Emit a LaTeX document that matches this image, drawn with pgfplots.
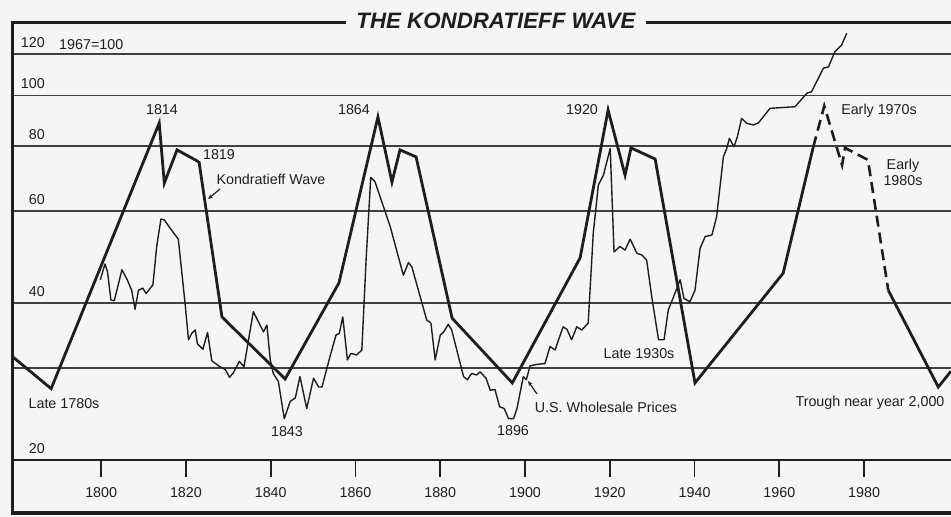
\documentclass[border=0pt]{standalone}
\usepackage{pgfplots}
\pgfplotsset{compat=1.18}
\usepackage{fontspec}
\setmainfont{Liberation Sans}
\usetikzlibrary{arrows.meta}
\definecolor{bg}{RGB}{245,245,245}
\definecolor{ink}{RGB}{30,30,30}
\newcommand\lab{\fontsize{14.3}{16}\selectfont}
\begin{document}
\begin{tikzpicture}
\path[fill=bg, use as bounding box] (-13pt,-57pt) rectangle (938pt,460pt);
\begin{axis}[
  at={(0pt,0pt)}, anchor=south west,
  scale only axis, width=938pt, height=437pt,
  xmin=1779.2, xmax=2000.5,
  ymode=log, ymin=20, ymax=137.6,
  axis line style={draw=none},
  clip=false,
  /pgf/number format/assume math mode=true,
  xtick={1800,1820,1840,1860,1880,1900,1920,1940,1960,1980},
  xticklabels={1800,1820,1840,1860,1880,1900,1920,1940,1960,1980},
  xtick pos=left,
  tick align=outside,
  major tick length=17pt,
  xtick style={line width=1.8pt, ink},
  xticklabel style={font=\lab, text=ink, yshift=-7pt},
  ytick={20,30,40,60,80,100,120},
  yticklabels={20,,40,60,80,100,120},
  ytick style={draw=none},
  yticklabel style={font=\lab, text=ink, anchor=south east, inner sep=0pt, xshift=49pt, yshift=6pt},
  ymajorgrids,
  grid style={line width=1.4pt, ink!85},
]
% U.S. wholesale prices (1967=100)
\addplot[ink, line width=1.4pt, line join=round] coordinates {
(1799.8,44.3) (1800.9,47.5) (1801.5,45.9) (1802.3,40.5) (1803.1,40.4)
(1804.9,46.3) (1806.1,44.4) (1807.2,42.3) (1808.0,38.9) (1808.8,42.3)
(1809.8,42.7) (1810.6,41.7) (1811.4,42.5) (1812.2,43.3) (1813.1,51.3)
(1814.1,57.9) (1814.9,57.7) (1816.3,55.6) (1818.2,53.0) (1819.8,39.9)
(1820.6,34.0) (1821.4,35.0) (1822.2,35.5) (1822.7,33.4) (1824.0,32.6)
(1825.1,35.1) (1826.1,31.0) (1827.7,30.3) (1829.3,29.8) (1830.3,28.8)
(1831.2,29.4) (1832.6,30.9) (1833.7,30.2) (1835.9,38.5) (1838.3,35.2)
(1839.1,36.3) (1839.9,31.1) (1840.6,29.3) (1841.8,28.3) (1843.2,24.0)
(1844.6,25.9) (1845.8,26.3) (1846.9,28.9) (1848.5,25.1) (1850.1,28.7)
(1851.3,27.6) (1852.1,27.6) (1854.0,31.6) (1855.4,34.7) (1856.2,35.0)
(1857.0,37.6) (1858.1,31.1) (1858.9,32.0) (1860.3,31.8) (1861.5,32.5)
(1862.5,48.3) (1863.6,69.6) (1864.6,68.3) (1866.6,61.2) (1868.2,56.0)
(1871.3,45.2) (1872.5,47.8) (1873.3,46.9) (1876.8,37.1) (1877.8,36.6)
(1878.8,31.1) (1880.0,34.7) (1880.7,35.1) (1881.9,36.4) (1882.7,35.5)
(1885.5,28.9) (1886.4,28.5) (1887.4,29.3) (1888.6,29.1) (1889.4,29.5)
(1890.8,28.7) (1891.8,27.2) (1892.9,27.3) (1894.0,25.3) (1895.1,25.1)
(1896.1,24.0) (1897.3,24.0) (1898.1,25.1) (1899.6,28.9) (1900.3,28.5)
(1901.2,30.3) (1902.8,30.5) (1904.7,30.6) (1905.9,33.0) (1907.1,32.5)
(1907.9,34.0) (1909.0,36.0) (1909.9,35.6) (1911.0,34.0) (1912.2,36.0)
(1913.4,35.5) (1914.9,36.6) (1916.1,54.4) (1917.3,67.3) (1918.5,70.3)
(1920.1,79.1) (1921.0,50.1) (1922.4,51.3) (1923.6,50.5) (1924.8,53.0)
(1926.4,49.8) (1927.6,49.4) (1928.7,48.3) (1929.9,41.1) (1931.5,34.0)
(1932.8,34.0) (1933.8,38.8) (1934.9,40.8) (1936.6,44.3) (1937.5,40.8)
(1938.9,40.2) (1940.1,42.3) (1941.3,50.9) (1942.5,53.6) (1944.1,54.0)
(1945.2,58.5) (1946.8,76.3) (1947.6,79.1) (1948.2,82.7) (1949.3,79.7)
(1950.1,83.3) (1951.1,90.3) (1952.3,88.4) (1953.9,87.7) (1955.1,88.6)
(1957.8,94.4) (1963.7,95.1) (1966.5,100.9) (1967.6,101.6) (1970.4,112.7)
(1971.6,113.4) (1973.1,121.2) (1974.7,124.9) (1975.9,131.5)
};
% Kondratieff wave (solid)
\addplot[ink, line width=2.8pt, line join=miter] coordinates {
(1779.2,31.5) (1788.2,27.4) (1813.7,88.5) (1814.9,67.9) (1817.9,78.6)
(1823.1,74.5) (1828.5,37.6) (1843.4,28.6) (1856.1,43.7) (1865.3,90.9)
(1868.6,68.2) (1870.5,78.6) (1874.3,76.2) (1882.8,37.4) (1897.0,28.1)
(1913.0,48.8) (1919.6,93.7) (1923.6,70.3) (1925.0,79.3) (1930.7,75.5)
(1940.1,28.1) (1960.9,45.6) (1968.0,79.6)
};
% Kondratieff wave (projected, dashed)
\addplot[ink, line width=2.6pt, dash pattern=on 11pt off 6pt] coordinates {
(1968.0,79.6) (1970.6,95.4) (1974.8,73.5) (1975.5,79.3) (1980.9,75.2) (1985.7,42.3)
};
\addplot[ink, line width=2.8pt, line join=miter] coordinates {
(1985.7,42.3) (1997.5,27.6) (2000.5,29.6)
};
\end{axis}
% frame
\draw[ink, line width=2pt] (0,0) -- (938pt,0);
\draw[ink, line width=4pt] (0,-53pt) -- (938pt,-53pt);
\draw[ink, line width=3pt] (0,-55pt) -- (0,438.5pt);
\draw[ink, line width=3pt] (-1.5pt,437pt) -- (938pt,437pt);
% title
\node[fill=bg, inner xsep=10pt, inner ysep=2pt, font=\fontsize{22.3}{25}\selectfont\bfseries\itshape, text=ink] at (483pt,439pt) {THE KONDRATIEFF WAVE};
% annotations
\begin{scope}[every node/.style={font=\lab, text=ink, inner sep=1pt}]
\node[anchor=west] at (45pt,415pt) {1967=100};
\node at (149pt,350pt) {1814};
\node[fill=bg, inner xsep=4pt] at (206pt,305pt) {1819};
\node at (258pt,281pt) {Kondratieff Wave};
\node at (341pt,350pt) {1864};
\node at (569pt,350pt) {1920};
\node at (866pt,349pt) {Early 1970s};
\node[align=center] at (890pt,288pt) {Early\\1980s};
\node at (51pt,56pt) {Late 1780s};
\node at (274pt,28pt) {1843};
\node at (500pt,29pt) {1896};
\node at (593pt,53pt) {U.S. Wholesale Prices};
\node at (626pt,106pt) {Late 1930s};
\node at (857pt,57pt) {Trough near year 2,000};
\end{scope}
\draw[ink, line width=1.2pt, -{Stealth[length=5pt,width=4pt]}] (207pt,271pt) -- (195pt,261pt);
\draw[ink, line width=1.2pt, -{Stealth[length=5pt,width=4pt]}] (524pt,66pt) -- (515pt,79pt);
\end{tikzpicture}
\end{document}
